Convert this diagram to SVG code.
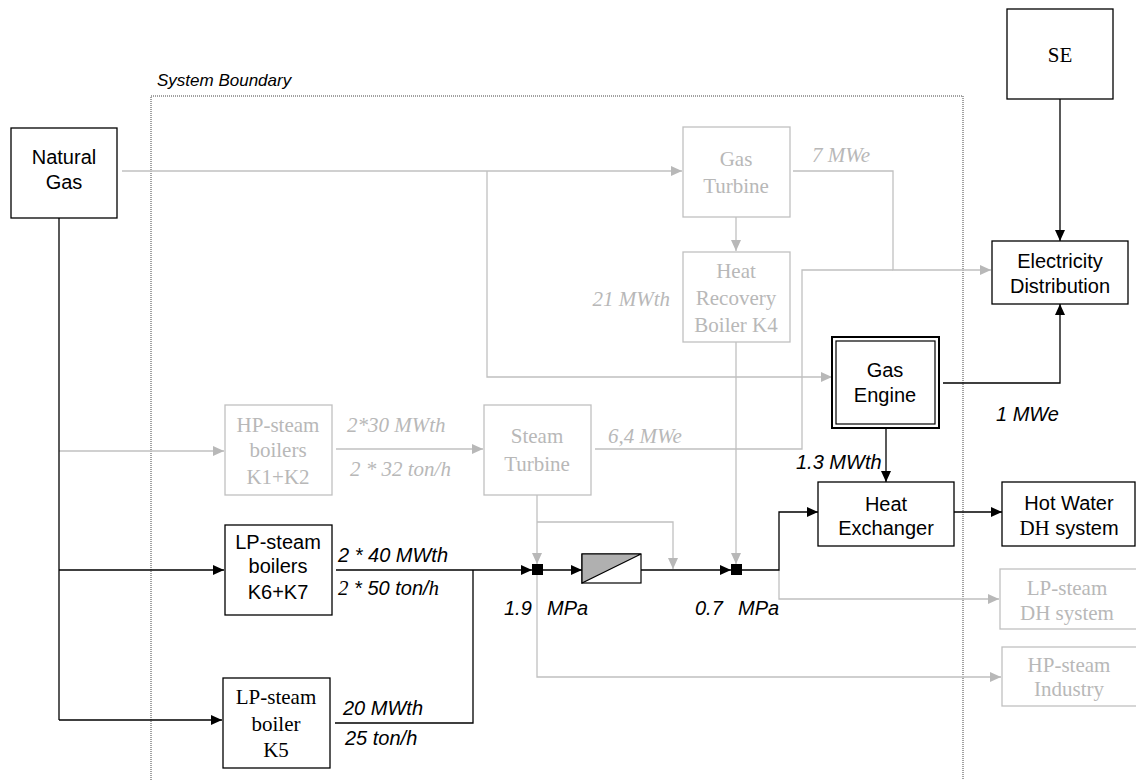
<svg xmlns="http://www.w3.org/2000/svg" width="1136" height="780" viewBox="0 0 1136 780">
<style>
.bx{fill:#fff;stroke:#000;stroke-width:1.3}
.gbx{fill:#fff;stroke:#c0c0c0;stroke-width:1.3}
.s{font-family:"Liberation Sans",Arial,sans-serif;font-size:20px;fill:#000;text-anchor:middle}
.r{font-family:"Liberation Serif","Times New Roman",serif;font-size:21px;fill:#000;text-anchor:middle}
.gr{font-family:"Liberation Serif","Times New Roman",serif;font-size:21px;fill:#b8b8b8;text-anchor:middle}
.gi{font-family:"Liberation Serif","Times New Roman",serif;font-size:21px;font-style:italic;fill:#b8b8b8}
.si{font-family:"Liberation Sans",Arial,sans-serif;font-size:20px;font-style:italic;fill:#000}
.ri{font-family:"Liberation Serif","Times New Roman",serif;font-style:italic}
.bl{fill:none;stroke:#000;stroke-width:1.3}
.gl{fill:none;stroke:#c0c0c0;stroke-width:1.3}
</style>
<defs>
<marker id="ab" markerWidth="11" markerHeight="10" refX="11" refY="5" orient="auto" markerUnits="userSpaceOnUse"><path d="M0,0 L11,5 L0,10 z" fill="#000"/></marker>
<marker id="ag" markerWidth="11" markerHeight="10" refX="11" refY="5" orient="auto" markerUnits="userSpaceOnUse"><path d="M0,0 L11,5 L0,10 z" fill="#b8b8b8"/></marker>
</defs>
<rect width="1136" height="780" fill="#fff"/>

<g id="boundary">
<rect x="151" y="96" width="812" height="720" fill="none" stroke="#444" stroke-width="1" stroke-dasharray="1,1"/>
<text x="157" y="86" font-family="Liberation Sans, Arial, sans-serif" font-size="17" font-style="italic" fill="#000">System Boundary</text>
</g>

<g id="connectors">
<path class="gl" d="M122,171 H682" marker-end="url(#ag)"/>
<path class="gl" d="M487,171 V377 H832" marker-end="url(#ag)"/>
<path class="gl" d="M736,217 V251" marker-end="url(#ag)"/>
<path class="gl" d="M793,171 H893 V270 H991" marker-end="url(#ag)"/>
<path class="gl" d="M595,449 H802 V270 H893"/>
<path class="gl" d="M59,451 H224" marker-end="url(#ag)"/>
<path class="gl" d="M336,449 H483" marker-end="url(#ag)"/>
<path class="gl" d="M537,495 V564" marker-end="url(#ag)"/>
<path class="gl" d="M537,522 H673 V569" marker-end="url(#ag)"/>
<path class="gl" d="M736,342 V564" marker-end="url(#ag)"/>
<path class="gl" d="M779,570 V599 H999" marker-end="url(#ag)"/>
<path class="gl" d="M537,575 V677 H1001" marker-end="url(#ag)"/>

<path class="bl" d="M59,218 V720"/>
<path class="bl" d="M59,570 H224" marker-end="url(#ab)"/>
<path class="bl" d="M59,720 H222" marker-end="url(#ab)"/>
<path class="bl" d="M336,570 H532" marker-end="url(#ab)"/>
<path class="bl" d="M335,723 H473 V570"/>
<path class="bl" d="M543,570 H582" marker-end="url(#ab)"/>
<path class="bl" d="M641,570 H731" marker-end="url(#ab)"/>
<path class="bl" d="M742,570 H779 V512 H818" marker-end="url(#ab)"/>
<path class="bl" d="M954,512 H1002" marker-end="url(#ab)"/>
<path class="bl" d="M1060,99 V241" marker-end="url(#ab)"/>
<path class="bl" d="M943,383 H1060 V304" marker-end="url(#ab)"/>
<path class="bl" d="M886,428 V482" marker-end="url(#ab)"/>
<rect x="532" y="564" width="11" height="11" fill="#000"/>
<rect x="731" y="564" width="11" height="11" fill="#000"/>
</g>

<g id="natural-gas">
<rect class="bx" x="11" y="128" width="106" height="90"/>
<text class="s" x="64" y="164">Natural</text>
<text class="s" x="64" y="189">Gas</text>
</g>

<g id="gas-turbine">
<rect class="gbx" x="683" y="127" width="107" height="90"/>
<text class="gr" x="736" y="166">Gas</text>
<text class="gr" x="736" y="193">Turbine</text>
</g>

<g id="heat-recovery-boiler">
<rect class="gbx" x="683" y="252" width="107" height="90"/>
<text class="gr" x="736" y="278">Heat</text>
<text class="gr" x="736" y="305">Recovery</text>
<text class="gr" x="736" y="332">Boiler K4</text>
</g>

<g id="se">
<rect class="bx" x="1007" y="9" width="106" height="90"/>
<text class="r" x="1060" y="62">SE</text>
</g>

<g id="electricity-distribution">
<rect class="bx" x="992" y="241" width="136" height="63"/>
<text class="s" x="1060" y="268">Electricity</text>
<text class="s" x="1060" y="293">Distribution</text>
</g>

<g id="gas-engine">
<rect x="832" y="337" width="107" height="91" fill="#fff" stroke="#000" stroke-width="2"/>
<rect x="836" y="341" width="99" height="83" fill="none" stroke="#000" stroke-width="1.2"/>
<text class="s" x="885" y="377">Gas</text>
<text class="s" x="885" y="402">Engine</text>
</g>

<g id="heat-exchanger">
<rect class="bx" x="818" y="482" width="136" height="64"/>
<text class="s" x="886" y="511">Heat</text>
<text class="s" x="886" y="535">Exchanger</text>
</g>

<g id="hot-water">
<rect class="bx" x="1002" y="482" width="133" height="64"/>
<text class="s" x="1069" y="510">Hot Water</text>
<text class="s" x="1069" y="535"><tspan font-family="Liberation Serif, Times New Roman, serif" font-size="21">DH</tspan> system</text>
</g>

<g id="lp-steam-dh">
<rect class="gbx" x="1000" y="569" width="150" height="60"/>
<text class="gr" x="1067" y="595">LP-steam</text>
<text class="gr" x="1067" y="620">DH system</text>
</g>

<g id="hp-steam-industry">
<rect class="gbx" x="1002" y="647" width="150" height="59"/>
<text class="gr" x="1069" y="672">HP-steam</text>
<text class="gr" x="1069" y="696">Industry</text>
</g>

<g id="hp-steam-boilers">
<rect class="gbx" x="225" y="405" width="107" height="90"/>
<text class="gr" x="278" y="432">HP-steam</text>
<text class="gr" x="278" y="457">boilers</text>
<text class="gr" x="278" y="484">K1+K2</text>
</g>

<g id="steam-turbine">
<rect class="gbx" x="484" y="405" width="107" height="90"/>
<text class="gr" x="537" y="443">Steam</text>
<text class="gr" x="537" y="471">Turbine</text>
</g>

<g id="lp-steam-boilers-k6k7">
<rect class="bx" x="225" y="525" width="107" height="90"/>
<text class="s" x="278" y="549">LP-steam</text>
<text class="s" x="278" y="573">boilers</text>
<text class="s" x="278" y="599">K6+K7</text>
</g>

<g id="lp-steam-boiler-k5">
<rect class="bx" x="223" y="678" width="107" height="90"/>
<text class="r" x="276" y="704">LP-steam</text>
<text class="r" x="276" y="731">boiler</text>
<text class="r" x="276" y="757">K5</text>
</g>

<g id="pressure-valve">
<rect x="582" y="554" width="59" height="29" fill="#fff" stroke="#000" stroke-width="1.2"/>
<path d="M582,554 H641 L582,583 Z" fill="#b0b0b0" stroke="#000" stroke-width="1.2"/>
</g>

<g id="labels">
<text class="gi" x="270" y="306" text-anchor="end" transform="translate(400,0)">21 MWth</text>
<text class="gi" x="812" y="162">7 MWe</text>
<text class="gi" x="347" y="432">2*30 MWth</text>
<text class="gi" x="350" y="476">2 * 32 ton/h</text>
<text class="gi" x="608" y="443">6,4 MWe</text>
<text class="si" x="996" y="421">1 MWe</text>
<text class="si" x="796" y="469">1.3 MWth</text>
<text class="si" x="338" y="562">2 * 40 MWth</text>
<text class="si" x="338" y="595"><tspan class="ri" font-size="21">2</tspan> * 50 ton/<tspan class="ri" font-size="21">h</tspan></text>
<text class="si" x="343" y="715">20 MWth</text>
<text class="si" x="345" y="745">25 ton/h</text>
<text class="si" x="504" y="615">1.9</text>
<text class="si" x="547" y="615">MPa</text>
<text class="si" x="695" y="615">0.7</text>
<text class="si" x="738" y="615">MPa</text>
</g>
</svg>
